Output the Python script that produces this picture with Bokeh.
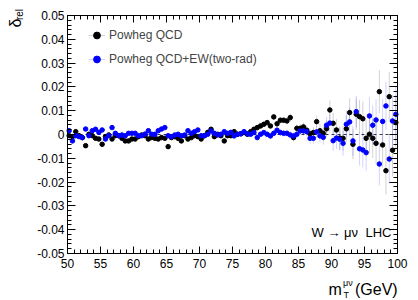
import numpy as np
from bokeh.plotting import figure
from bokeh.models import (Range1d, LinearAxis, FixedTicker, Label,
                          Legend, LegendItem, ColumnDataSource)
from bokeh.embed import file_html
from bokeh.resources import INLINE

# ---------------- data ----------------
mt_centers = np.arange(50.25, 100.0, 0.5)   # bin centres (GeV), 0.5 GeV bins

delta_qcd = [
    -0.0005, -0.0009, 0.0012, -0.0005, -0.0013, -0.0047, 0.0001, -0.0005, -0.0016, -0.0019,
    -0.0041, -0.0009, -0.0002, -0.0019, -0.0005, -0.0005, -0.0016, -0.0027, -0.0027, -0.0019,
    -0.0019, -0.0009, -0.0002, -0.0005, -0.0019, -0.0013, -0.0016, -0.0019, -0.0013, -0.0016,
    -0.0051, -0.0013, -0.0009, -0.0016, -0.0027, -0.0005, -0.0019, -0.0013, -0.0005, -0.0009,
    -0.0019, -0.0005, 0.0009, 0.0022, -0.0009, 0.0001, -0.0005, -0.0027, -0.0005, -0.0005,
    0.0012, 0.0001, 0.0003, 0.0008, 0.0001, 0.0012, 0.0022, 0.0029, 0.0036, 0.0043,
    0.0050, 0.0036, 0.0074, 0.0045, 0.0060, 0.0060, 0.0057, 0.0071, -0.0013, 0.0026,
    0.0026, 0.0032, 0.0018, 0.0003, 0.0008, 0.0054, 0.0016, 0.0005, 0.0024, 0.0103,
    0.0047, 0.0019, -0.0015, -0.0016, 0.0024, 0.0092, -0.0041, 0.0085, 0.0075, 0.0066,
    -0.0016, 0.0001, -0.0016, -0.0037, 0.0180, -0.0044, -0.0152, 0.0159, -0.0066, 0.0050,
]

delta_qcd_ew = [
    0.0016, -0.0027, -0.0005, -0.0009, -0.0013, 0.0023, -0.0005, 0.0016, 0.0022, 0.0009,
    0.0019, -0.0019, -0.0005, 0.0029, 0.0005, -0.0005, -0.0002, -0.0005, 0.0005, 0.0005,
    0.0005, -0.0005, -0.0005, 0.0002, 0.0016, 0.0001, 0.0001, 0.0016, 0.0023, 0.0029,
    -0.0005, -0.0009, -0.0002, 0.0001, -0.0005, -0.0002, 0.0016, 0.0005, 0.0012, 0.0019,
    -0.0005, -0.0005, 0.0001, 0.0015, 0.0005, -0.0002, 0.0001, 0.0012, 0.0005, 0.0009,
    -0.0006, 0.0001, 0.0003, 0.0012, 0.0003, 0.0001, 0.0008, -0.0013, 0.0001, 0.0008,
    0.0001, -0.0006, 0.0005, 0.0018, 0.0008, 0.0005, 0.0005, -0.0002, -0.0006, 0.0001,
    0.0015, 0.0015, 0.0012, -0.0016, -0.0016, 0.0011, -0.0006, -0.0012, 0.0039, 0.0048,
    -0.0026, -0.0015, -0.0020, -0.0037, 0.0043, 0.0053, -0.0027, 0.0096, -0.0060, -0.0065,
    -0.0076, 0.0078, 0.0039, 0.0061, -0.0124, 0.0055, 0.0120, -0.0103, 0.0057, 0.0085,
]

stat_err = [
    0.0005, 0.0005, 0.0005, 0.0005, 0.0005, 0.0005, 0.0005, 0.0005, 0.0005, 0.0005,
    0.0005, 0.0005, 0.0005, 0.0005, 0.0005, 0.0005, 0.0005, 0.0005, 0.0005, 0.0005,
    0.0005, 0.0005, 0.0005, 0.0005, 0.0005, 0.0006, 0.0006, 0.0006, 0.0006, 0.0006,
    0.0006, 0.0006, 0.0006, 0.0006, 0.0006, 0.0006, 0.0007, 0.0007, 0.0007, 0.0007,
    0.0007, 0.0007, 0.0007, 0.0007, 0.0008, 0.0008, 0.0008, 0.0008, 0.0008, 0.0009,
    0.0009, 0.0009, 0.0009, 0.0010, 0.0010, 0.0010, 0.0010, 0.0011, 0.0011, 0.0011,
    0.0012, 0.0012, 0.0013, 0.0013, 0.0014, 0.0014, 0.0015, 0.0016, 0.0016, 0.0017,
    0.0018, 0.0019, 0.0020, 0.0022, 0.0023, 0.0025, 0.0028, 0.0031, 0.0035, 0.0040,
    0.0043, 0.0046, 0.0049, 0.0052, 0.0056, 0.0060, 0.0063, 0.0066, 0.0070, 0.0073,
    0.0076, 0.0080, 0.0083, 0.0087, 0.0090, 0.0095, 0.0100, 0.0105, 0.0110, 0.0115,
]

x_ticks = [50, 55, 60, 65, 70, 75, 80, 85, 90, 95, 100]
y_ticks = [-0.05, -0.04, -0.03, -0.02, -0.01, 0.0, 0.01, 0.02, 0.03, 0.04, 0.05]
y_tick_labels = ["-0.05", "-0.04", "-0.03", "-0.02", "-0.01", "0",
                 "0.01", "0.02", "0.03", "0.04", "0.05"]
series_names = ["Powheg QCD", "Powheg QCD+EW(two-rad)"]
series_colors = ["#000000", "#0000ff"]

FONT = "Liberation Sans"

# ---------------- layout (pixels of the 418x300 canvas) ----------------
W, H = 418, 300
BOX_L, BOX_R, BOX_T, BOX_B = 67, 397, 15, 253     # plotting box edges
x_lo, x_hi = x_ticks[0], x_ticks[-1]
y_lo, y_hi = y_ticks[0], y_ticks[-1]
sx = (BOX_R - BOX_L) / (x_hi - x_lo)
sy = (BOX_B - BOX_T) / (y_hi - y_lo)
x_range = Range1d(x_lo - BOX_L / sx, x_hi + (W - BOX_R) / sx)
y_range = Range1d(y_lo - (H - BOX_B) / sy, y_hi + BOX_T / sy)

p = figure(width=W, height=H, x_range=x_range, y_range=y_range,
           output_backend="svg", toolbar_location=None,
           min_border=0, min_border_left=0, min_border_right=0,
           min_border_top=0, min_border_bottom=0,
           background_fill_color="white", border_fill_color="white")
p.grid.visible = False
p.outline_line_color = None

x_minor = list(np.arange(50, 100.5, 1.0))
y_minor = list(np.round(np.arange(-0.05, 0.0505, 0.002), 4))


def style_axis(ax, ticks, minor, major_len, minor_len, show_labels, loc, bounds):
    ax.ticker = FixedTicker(ticks=ticks, minor_ticks=minor)
    ax.fixed_location = loc
    ax.bounds = bounds
    ax.major_tick_in = major_len
    ax.major_tick_out = 0
    ax.minor_tick_in = minor_len
    ax.minor_tick_out = 0
    ax.axis_line_color = "black"
    ax.major_tick_line_color = "black"
    ax.minor_tick_line_color = "black"
    ax.major_label_text_font = FONT
    if show_labels:
        ax.major_label_text_font_size = "12px"
        ax.major_label_text_color = "black"
    else:
        ax.major_label_text_font_size = "0px"
        ax.major_label_text_color = None
        ax.major_label_standoff = 0


xa = p.xaxis[0]
style_axis(xa, x_ticks, x_minor, 7, 4, True, y_lo, (x_lo, x_hi))
xa.major_label_standoff = 5

ya = p.yaxis[0]
style_axis(ya, y_ticks, y_minor, 8, 4, True, x_lo, (y_lo, y_hi))
ya.major_label_standoff = 3
ya.major_label_overrides = {t: s for t, s in zip(y_ticks, y_tick_labels)}

top = LinearAxis()
style_axis(top, x_ticks, x_minor, 7, 4, False, y_hi, (x_lo, x_hi))
p.add_layout(top, "above")
right = LinearAxis()
style_axis(right, y_ticks, y_minor, 8, 4, False, x_hi, (y_lo, y_hi))
p.add_layout(right, "right")

# zero reference line across the box
p.segment(x0=[x_lo], y0=[0], x1=[x_hi], y1=[0], line_color="#333355",
          line_dash="3 3", line_width=1)

# series: error bars, then points
segs = []
for vals, color in zip([delta_qcd, delta_qcd_ew], series_colors):
    v = np.array(vals)
    e = np.array(stat_err)
    src = ColumnDataSource(dict(x=mt_centers, y=v, lo=v - e, hi=v + e))
    seg = p.segment(x0="x", y0="lo", x1="x", y1="hi", source=src,
                    line_color=color, line_alpha=0.18, line_width=1)
    segs.append(seg)
pts = []
for vals, color in zip([delta_qcd, delta_qcd_ew], series_colors):
    src = ColumnDataSource(dict(x=mt_centers, y=np.array(vals)))
    sc = p.scatter(x="x", y="y", source=src, size=4.5, marker="circle",
                   fill_color=color, line_color=color)
    pts.append(sc)

# two single-item legends (location = bottom-left corner, from canvas bottom-left)
for k, loc in enumerate([(88, 255), (88, 231)]):
    lg = Legend(items=[LegendItem(label=series_names[k], renderers=[segs[k], pts[k]])],
                location=loc, orientation="vertical",
                glyph_width=17, glyph_height=20, label_height=20, spacing=0,
                padding=0, margin=0, label_standoff=4,
                label_text_font=FONT, label_text_font_size="12px",
                border_line_color=None, background_fill_alpha=0)
    p.add_layout(lg)


def lab(x, y, text, size, align="left", baseline="alphabetic", angle=0):
    # x, y in pixels from the canvas bottom-left corner
    p.add_layout(Label(x=x, y=y, x_units="screen", y_units="screen", text=text,
                       text_font=FONT, text_font_size=size, text_align=align,
                       text_baseline=baseline, angle=angle, text_color="black"))


# W -> mu nu   LHC
lab(311, 68, "W \u2192 \u03bc\u03bd", "13px")
lab(365, 68, "LHC", "13px")

# x-axis title  m_T^{mu nu} (GeV)
lab(328, 11, "m", "16px")
lab(342.5, 18, "\u03bc\u03bd", "9px")
lab(343, 6, "T", "9px")
lab(354.5, 11, "(GeV)", "16px")

# y-axis title  delta_rel (rotated)
lab(15, 282, "\u03b4", "16px", align="right", baseline="middle", angle=np.pi / 2)
lab(18.5, 291.5, "rel", "10px", align="right", baseline="middle", angle=np.pi / 2)

open("out.html", "w").write(file_html(p, INLINE))
